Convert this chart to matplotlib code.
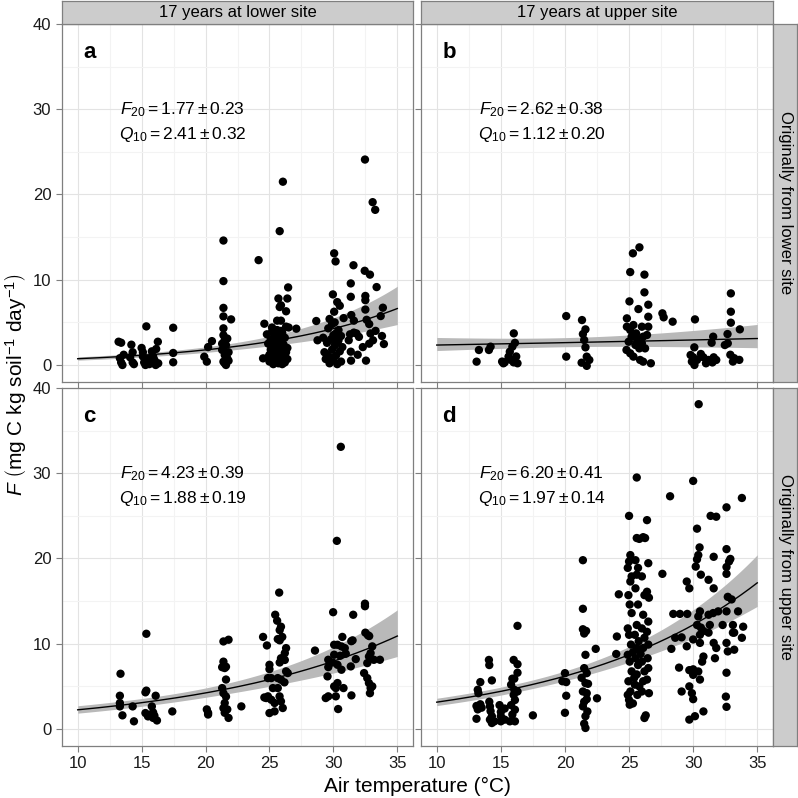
import numpy as np
import matplotlib
matplotlib.use('Agg')
import matplotlib.pyplot as plt
from matplotlib.ticker import FixedLocator

plt.rcParams['font.family'] = ['Liberation Sans', 'DejaVu Sans']
plt.rcParams['mathtext.fontset'] = 'custom'
plt.rcParams['mathtext.rm'] = 'Liberation Sans'
plt.rcParams['mathtext.it'] = 'Liberation Sans:italic'
plt.rcParams['mathtext.bf'] = 'Liberation Sans:bold'

# ---------------- data ----------------
col_labels = ['17 years at lower site', '17 years at upper site']
row_labels = ['Originally from lower site', 'Originally from upper site']
panel_letters = ['a', 'b', 'c', 'd']
F20 = [1.77, 2.62, 4.23, 6.20]
F20_se = [0.23, 0.38, 0.39, 0.41]
Q10 = [2.41, 1.12, 1.88, 1.97]
Q10_se = [0.32, 0.20, 0.19, 0.14]
x_ticks = [10, 15, 20, 25, 30, 35]
y_ticks = [0, 10, 20, 30, 40]

obs_a = [
    (13.2, 2.73), (13.4, 2.61), (13.3, 0.8), (13.4, 0.3), (13.5, 0.0), (13.6, 1.2), (14.2, 2.38), (14.3, 1.5),
    (14.3, 0.3), (14.1, 0.9), (14.4, 0.1), (15.37, 4.53), (15.0, 2.0), (15.1, 1.0), (15.2, 0.3), (15.3, 0.0),
    (15.1, 1.5), (15.8, 1.6), (15.9, 1.0), (15.7, 0.3), (16.1, 0.0), (16.14, 1.88), (16.27, 2.73), (16.0, 0.6),
    (16.3, 0.2), (15.5, 0.7), (15.6, 0.1), (17.47, 4.37), (17.47, 1.41), (17.47, 0.32),
    (19.9, 0.97), (20.1, 0.39), (20.2, 2.1), (20.5, 2.8), (21.4, 14.6), (21.4, 9.84), (21.4, 6.7), (21.4, 5.7),
    (22.0, 5.35), (21.4, 4.3), (21.4, 3.5), (21.5, 2.93), (21.6, 2.34), (21.3, 1.76), (21.5, 1.17), (21.7, 0.78),
    (21.4, 0.39), (21.6, 0.0), (21.8, 1.5), (21.3, 2.5), (21.7, 3.1), (21.5, 0.2), (21.8, 0.5),
    (24.15, 12.3), (26.05, 21.5), (25.8, 15.7), (26.46, 9.1), (25.7, 7.8), (26.4, 7.8), (25.9, 7.0), (26.3, 6.3),
    (25.8, 6.8), (24.6, 4.84), (25.6, 5.2), (25.9, 5.2), (27.1, 4.26), (26.5, 4.4), (24.5, 0.78),
    (24.8, 3.6), (24.9, 2.5), (25.0, 1.2), (25.0, 0.4), (25.1, 3.0), (25.1, 1.8), (25.2, 0.8), (25.2, 3.9),
    (25.3, 2.2), (25.3, 0.1), (25.4, 1.5), (25.4, 3.3), (25.5, 0.6), (25.5, 2.7), (25.6, 1.0), (25.6, 4.1),
    (25.7, 0.2), (25.7, 2.0), (25.8, 3.6), (25.8, 1.3), (25.9, 0.5), (25.9, 2.9), (26.0, 1.7), (26.0, 3.8),
    (26.1, 0.9), (26.1, 2.4), (26.2, 0.3), (26.2, 3.2), (26.3, 1.5), (26.3, 4.5), (26.4, 2.0), (26.4, 0.7),
    (25.2, 4.4), (25.5, 3.7), (25.9, 4.0), (24.9, 0.9), (25.3, 1.9), (26.0, 0.1), (25.6, 2.6), (26.2, 1.2),
    (28.66, 5.16), (28.76, 2.9), (29.96, 8.28), (30.06, 13.1), (30.17, 12.15), (30.3, 7.38), (30.5, 6.95),
    (30.06, 6.25), (29.7, 5.4), (30.1, 5.0), (31.57, 11.7), (32.45, 11.05), (32.86, 10.6), (31.36, 9.57),
    (33.38, 9.14), (31.36, 8.0), (32.5, 8.1), (32.5, 7.6), (33.87, 6.72), (32.5, 6.5), (31.4, 5.86), (31.6, 5.2),
    (32.6, 5.3), (32.8, 4.8), (33.7, 5.74), (33.8, 3.4), (33.95, 2.46), (31.36, 1.56), (31.38, 0.51), (32.55, 0.51),
    (32.8, 2.5), (33.1, 2.9), (31.2, 2.9), (31.3, 3.6), (31.6, 3.8), (31.8, 3.7), (32.47, 24.1), (33.07, 19.1),
    (33.27, 18.2), (32.0, 3.3), (32.3, 2.1), (32.9, 3.7), (33.3, 4.0), (31.9, 1.2), (30.8, 5.5),
    (29.2, 3.2), (29.3, 1.5), (29.4, 0.7), (29.5, 2.6), (29.6, 4.3), (29.7, 0.2), (29.8, 3.0), (29.9, 1.8),
    (29.9, 4.8), (30.0, 0.6), (30.1, 2.3), (30.2, 3.7), (30.2, 1.1), (30.3, 0.1), (30.4, 2.9), (30.4, 4.1),
    (30.5, 1.6), (30.6, 0.4), (30.6, 3.4), (30.7, 2.1), (29.5, 1.2), (30.0, 3.5), (30.3, 2.6), (29.8, 0.9),
]

obs_b = [
    (13.29, 1.76), (13.11, 0.39), (14.2, 2.15), (14.07, 1.76), (16.01, 3.71), (16.1, 2.6), (15.9, 2.15),
    (15.7, 1.56), (15.6, 0.98), (15.8, 0.59), (15.3, 0.31), (16.0, 0.31), (16.2, 1.0), (16.3, 0.2), (15.2, 0.2),
    (15.1, 0.4),
    (20.1, 5.74), (20.1, 0.98), (21.33, 5.27), (21.6, 4.18), (21.4, 3.63), (21.5, 2.93), (21.6, 2.07),
    (21.7, 0.98), (21.3, 0.27), (21.7, -0.1), (21.9, 0.59),
    (25.81, 13.8), (25.3, 13.1), (25.09, 10.9), (26.2, 10.6), (26.2, 8.52), (25.03, 7.46), (25.73, 6.56),
    (26.5, 7.07), (26.5, 5.66), (24.83, 5.47),
    (24.83, 4.49), (25.09, 4.1), (25.34, 4.69), (26.0, 4.49), (26.5, 4.49), (25.2, 3.32), (25.6, 3.13),
    (26.1, 3.32), (26.4, 3.52), (26.0, 2.54), (25.5, 2.34), (24.97, 2.73), (24.8, 1.76), (25.09, 1.37),
    (25.34, 0.98), (25.86, 0.59), (26.1, 0.39), (26.7, 0.2), (25.8, 1.95), (26.25, 1.95), (25.55, 3.71),
    (27.6, 6.06), (27.7, 5.59), (28.4, 5.08),
    (30.14, 5.35), (30.09, 2.07), (29.8, 1.17), (30.0, 0.9), (30.3, 0.59), (30.1, 0.0), (30.6, 1.29),
    (30.8, 0.9), (31.2, 0.59), (31.56, 3.32), (31.44, 2.61), (31.6, 0.9), (31.8, 0.59), (31.5, 0.3),
    (32.47, 2.34), (32.7, 2.54), (32.68, 3.63), (32.94, 8.4), (32.94, 6.25), (32.94, 4.96), (33.64, 4.18),
    (32.9, 1.2), (33.1, 0.4), (33.6, 0.6), (33.2, 0.8), (29.9, 0.4), (31.0, 0.2),
]

obs_c = [
    (30.58, 33.1), (30.27, 22.07), (25.76, 16.0), (25.45, 13.4), (15.37, 11.17), (13.35, 6.48), (29.98, 13.7),
    (31.55, 13.4), (32.47, 14.7), (32.47, 14.4),
    (25.6, 12.7), (25.9, 12.0), (25.8, 11.6), (25.65, 10.55), (26.0, 10.8), (25.8, 10.4), (24.5, 10.8),
    (24.8, 9.8), (26.3, 9.49), (26.2, 8.9), (26.2, 8.1), (25.8, 7.8), (25.9, 8.3),
    (25.0, 7.53), (25.0, 7.02), (24.88, 5.97), (25.14, 5.97), (25.65, 5.97), (25.9, 5.78), (26.3, 6.76),
    (26.43, 6.56), (26.17, 5.47), (25.27, 4.8), (25.65, 4.8), (24.88, 3.83), (25.14, 3.43), (24.75, 3.63),
    (25.4, 3.05), (25.79, 3.83), (26.04, 2.46), (25.0, 1.87), (25.4, 2.07), (25.9, 3.24),
    (28.56, 9.2), (30.7, 10.8), (31.4, 10.3), (31.5, 10.4), (32.5, 11.3), (32.7, 11.0), (32.8, 10.9),
    (30.06, 9.88), (30.32, 9.88), (30.63, 9.69), (30.89, 9.49), (30.06, 8.71), (29.93, 7.8), (30.53, 8.59),
    (30.97, 8.83), (31.75, 8.2), (31.36, 7.34), (29.6, 7.26), (30.63, 6.95), (29.54, 6.17), (30.32, 7.53),
    (29.6, 8.12), (30.32, 5.39), (30.19, 4.8), (30.79, 4.8), (29.4, 3.63), (29.6, 3.83), (30.19, 3.83),
    (31.41, 3.94), (30.37, 2.34), (30.06, 5.0),
    (32.4, 6.56), (32.65, 5.97), (32.78, 5.39), (32.91, 4.8), (33.04, 5.0), (32.86, 4.2), (33.17, 8.12),
    (33.04, 9.69), (32.78, 8.5), (33.64, 8.12), (32.65, 7.73), (32.91, 8.9),
    (13.3, 3.9), (13.3, 2.65), (13.5, 1.6), (14.3, 2.65), (14.4, 0.9), (13.3, 3.05),
    (15.37, 4.5), (15.3, 4.3), (15.3, 1.87), (15.5, 1.48), (15.8, 2.65), (15.9, 1.95), (15.9, 1.3), (16.2, 1.0),
    (16.1, 3.9), (15.7, 1.67), (16.0, 1.56),
    (17.4, 2.06), (20.1, 2.3), (20.2, 1.9), (20.2, 1.7), (21.4, 10.27), (21.8, 10.47), (21.4, 7.9), (21.5, 7.15),
    (21.3, 7.25), (21.6, 7.3), (21.6, 5.8), (21.3, 4.8), (21.4, 4.2), (21.6, 3.8), (21.5, 3.05), (21.4, 2.45),
    (21.7, 2.3), (21.8, 1.3), (21.5, 1.9), (22.8, 2.65), (24.6, 3.7),
]

obs_d = [
    (30.43, 38.1), (25.6, 29.5), (30.0, 29.1), (28.2, 27.3), (33.8, 27.1), (32.6, 26.0), (31.36, 25.0),
    (31.8, 24.9), (25.0, 25.0), (26.4, 24.5), (30.3, 23.5), (25.8, 22.3), (26.25, 22.4),
    (30.5, 21.3), (30.4, 20.4), (30.3, 19.9), (30.2, 19.05), (30.6, 18.1), (31.6, 20.2), (32.6, 21.1),
    (32.9, 19.95), (32.8, 19.65), (32.6, 19.0), (32.6, 18.2), (29.5, 17.3), (29.7, 16.5), (31.2, 17.5),
    (31.6, 16.5), (27.6, 18.2), (24.2, 15.8),
    (28.45, 13.5), (28.97, 13.5), (29.54, 13.5),
    (30.53, 13.8), (30.4, 13.2), (30.3, 12.2), (30.6, 11.9), (30.8, 11.5), (31.2, 13.4), (31.3, 12.2),
    (31.56, 13.6), (31.95, 13.8), (32.3, 12.2), (32.6, 13.8), (32.7, 15.5), (33.0, 15.2), (33.5, 13.8),
    (33.1, 12.2), (33.2, 11.3), (33.9, 12.0), (30.53, 11.05),
    (28.3, 9.4), (28.6, 10.7), (29.1, 10.75), (29.5, 9.7), (30.0, 10.5),
    (30.53, 10.1), (30.8, 8.5), (30.7, 7.9), (31.2, 11.3), (31.6, 10.1), (31.8, 9.5), (31.7, 8.3), (32.6, 10.1),
    (32.7, 9.1), (33.2, 9.3), (33.1, 11.3), (33.8, 10.7),
    (28.9, 7.2), (29.7, 6.9), (30.0, 6.35), (30.4, 6.75), (30.53, 5.8), (30.0, 7.0),
    (29.1, 4.4), (29.7, 5.0), (29.9, 4.2), (30.0, 3.5), (32.6, 6.6), (32.55, 3.8), (32.6, 2.6),
    (29.7, 1.1), (30.14, 1.5), (30.8, 2.06),
    (25.1, 20.4), (25.0, 19.65), (24.9, 18.9), (25.2, 17.9), (25.1, 17.3), (24.95, 15.7), (25.05, 14.6),
    (25.2, 13.6), (24.9, 11.8), (25.0, 11.05), (25.15, 9.9), (24.9, 8.7), (25.05, 7.9), (25.2, 6.76),
    (24.95, 5.6), (25.1, 4.4), (25.0, 3.4), (25.05, 2.85),
    (25.6, 22.4), (25.5, 19.8), (25.7, 18.9), (25.6, 18.1), (25.5, 16.5), (25.7, 14.6), (25.6, 12.2),
    (25.45, 11.05), (25.75, 10.3), (25.6, 9.5), (25.5, 8.3), (25.7, 7.5), (25.6, 6.4), (25.45, 5.2), (25.65, 4.0),
    (26.1, 22.5), (26.0, 17.9), (26.2, 15.7), (26.1, 13.4), (26.0, 11.8), (26.2, 10.7), (26.1, 9.5), (26.0, 7.9),
    (26.2, 6.76), (26.1, 5.6), (26.0, 4.4), (26.2, 1.29), (26.3, 1.6),
    (26.5, 19.45), (26.4, 16.1), (26.55, 15.4), (26.5, 12.6), (26.4, 11.4), (26.5, 9.9), (26.45, 8.3),
    (26.5, 7.15), (26.4, 5.8), (26.55, 4.2),
    (24.9, 4.0), (25.3, 3.0), (25.4, 6.0), (25.8, 5.0), (25.3, 9.0), (25.9, 8.8),
    (24.05, 10.85), (24.0, 8.8), (22.4, 9.4), (22.5, 3.6),
    (14.07, 8.1), (14.1, 7.5), (13.4, 5.5), (14.3, 5.7), (13.2, 4.6), (13.25, 4.2), (13.1, 2.7), (13.2, 2.3),
    (13.4, 2.9), (13.5, 2.5), (13.1, 1.2),
    (14.1, 3.2), (14.15, 2.65), (14.2, 2.1), (14.3, 1.5), (14.15, 1.1), (14.3, 0.7), (14.5, 0.9),
    (14.9, 2.8), (15.0, 2.0), (15.0, 1.5), (15.0, 0.9), (15.3, 2.4), (15.3, 1.1),
    (16.0, 8.1), (16.3, 7.6), (16.3, 6.6), (15.9, 5.9), (15.8, 5.2), (16.05, 4.6), (16.3, 4.4), (16.0, 4.0),
    (16.1, 3.4), (15.8, 2.8), (16.1, 2.26), (15.9, 1.7), (16.1, 0.9), (15.7, 0.9), (16.05, 5.9),
    (16.3, 12.1), (17.5, 1.6),
    (21.4, 19.8), (21.4, 14.1), (21.4, 11.7), (21.65, 11.5), (21.5, 11.2), (21.6, 8.7), (21.5, 7.14),
    (21.7, 6.55), (21.6, 5.38), (21.8, 5.3), (21.4, 4.4), (21.7, 4.2), (21.5, 3.2), (21.4, 2.65), (21.75, 2.06),
    (21.5, 0.62), (21.6, 0.12), (20.0, 6.55), (20.1, 5.5), (20.1, 3.9), (20.0, 1.9), (19.8, 5.6),
    (21.3, 6.0), (21.7, 3.5), (21.6, 1.5),
]

observations = [obs_a, obs_b, obs_c, obs_d]

# ---------------- layout (pixel boxes) ----------------
W = H = 798
fig = plt.figure(figsize=(W / 100, H / 100), dpi=100)


def px_axes(l, t, r, b):
    return fig.add_axes([l / W, 1 - b / H, (r - l) / W, (b - t) / H])


col_x = [(61.7, 413.3), (420.7, 773.3)]
row_y = [(24.0, 381.7), (388.0, 745.7)]
border = '#7f7f7f'
z = 1.4
T_fit = np.linspace(10, 35, 200)

for k in range(4):
    i, j = divmod(k, 2)
    ax = px_axes(col_x[j][0], row_y[i][0], col_x[j][1], row_y[i][1])
    ax.set_xlim(8.75, 36.25)
    ax.set_ylim(-1.96, 40.0)
    ax.xaxis.set_major_locator(FixedLocator(x_ticks))
    ax.xaxis.set_minor_locator(FixedLocator([12.5, 17.5, 22.5, 27.5, 32.5]))
    ax.yaxis.set_major_locator(FixedLocator(y_ticks))
    ax.yaxis.set_minor_locator(FixedLocator([5, 15, 25, 35]))
    ax.grid(which='major', color='#e3e3e3', lw=0.8, zorder=0)
    ax.grid(which='minor', color='#f3f3f3', lw=0.8, zorder=0)
    ax.set_axisbelow(True)
    for s in ax.spines.values():
        s.set_color(border)
        s.set_linewidth(0.9)
    ax.tick_params(which='major', direction='out', length=4.5, width=0.8, color=border,
                   labelsize=12, labelcolor='#1a1a1a', pad=3)
    ax.tick_params(which='minor', length=0)
    if j == 1:
        ax.tick_params(labelleft=False)
    if i == 0:
        ax.tick_params(labelbottom=False)

    f20, q10 = F20[k], Q10[k]
    u = (T_fit - 20) / 10.0
    fit = f20 * q10 ** u
    se_log = np.sqrt((F20_se[k] / f20) ** 2 + (u * Q10_se[k] / q10) ** 2)
    lo = fit * np.exp(-z * se_log)
    hi = fit * np.exp(z * se_log)

    pts = observations[k]
    tx = [p[0] for p in pts]
    fy = [p[1] for p in pts]
    ax.fill_between(T_fit, lo, hi, color='#b9b9b9', lw=0, zorder=2)
    ax.scatter(tx, fy, s=36, color='black', edgecolors='none', zorder=3)
    ax.plot(T_fit, fit, color='black', lw=1.0, zorder=4)

    ax.text(10.45, 36.7, panel_letters[k], fontsize=16, fontweight='bold', ha='left', va='center')
    ax.text(13.3, 30.0, r'$F_{20} = %.2f \pm %.2f$' % (f20, F20_se[k]), fontsize=12.5,
            ha='left', va='center')
    ax.text(13.2, 27.0, r'$Q_{10} = %.2f \pm %.2f$' % (q10, Q10_se[k]), fontsize=12.5,
            ha='left', va='center')

# strips
for j in range(2):
    sx = px_axes(col_x[j][0], 0.5, col_x[j][1], 24.0)
    sx.set_facecolor('#cccccc')
    sx.set_xticks([]); sx.set_yticks([])
    for s in sx.spines.values():
        s.set_color(border); s.set_linewidth(0.9)
    sx.text(0.5, 0.5, col_labels[j], transform=sx.transAxes, ha='center', va='center', fontsize=12)
for i in range(2):
    sx = px_axes(773.3, row_y[i][0], 797.5, row_y[i][1])
    sx.set_facecolor('#cccccc')
    sx.set_xticks([]); sx.set_yticks([])
    for s in sx.spines.values():
        s.set_color(border); s.set_linewidth(0.9)
    sx.text(0.5, 0.5, row_labels[i], transform=sx.transAxes, ha='center', va='center',
            rotation=270, fontsize=12)

fig.text(417.5 / W, 1 - 786.5 / H, 'Air temperature (\u00b0C)', ha='center', va='center', fontsize=15)
fig.text(16 / W, 1 - 385 / H,
         r'$F\ \left(\mathrm{mg\ C\ kg\ soil^{-1}\ day^{-1}}\right)$',
         ha='center', va='center', rotation=90, fontsize=15)

fig.savefig('out.png', dpi=100)
